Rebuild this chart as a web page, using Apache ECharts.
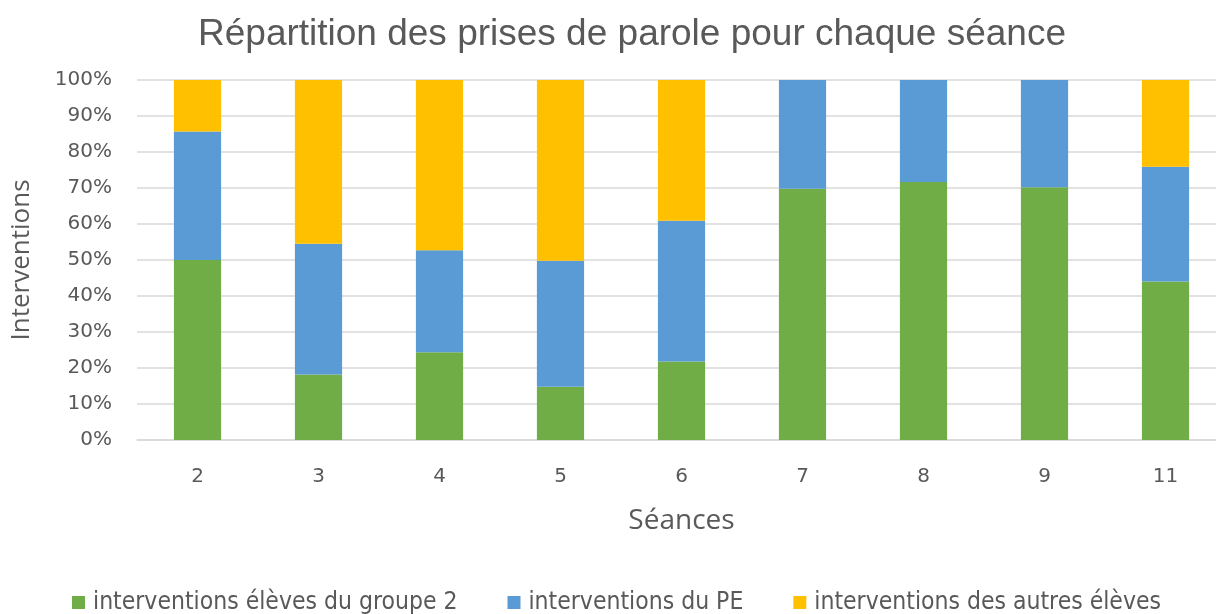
<!DOCTYPE html>
<html>
<head>
<meta charset="utf-8">
<script src="https://cdn.jsdelivr.net/npm/echarts@6/dist/echarts.min.js"></script>
<style>
  html, body { margin: 0; padding: 0; background: #fff; }
  #chart { width: 1216px; height: 614px; }
</style>
</head>
<body>
<div id="chart"></div>
<script>
const seances = ["2", "3", "4", "5", "6", "7", "8", "9", "11"];
const groupe2 = [50, 18.2, 24.4, 14.8, 21.8, 69.8, 71.7, 70.2, 44];
const pe = [35.7, 36.3, 28.3, 35, 39.1, 30.2, 28.3, 29.8, 31.9];
const autres = [14.3, 45.5, 47.3, 50.2, 39.1, 0, 0, 0, 24.1];
const yTicks = ["0%", "10%", "20%", "30%", "40%", "50%", "60%", "70%", "80%", "90%", "100%"];

const textColor = "#595959";
const axisFont = "Open Sans";
const tickFont = "DejaVu Sans";

const chart = echarts.init(document.getElementById("chart"));

const barSeries = (name, data, color) => ({
  name: name,
  type: "bar",
  stack: "total",
  barWidth: "39%",
  data: data,
  itemStyle: { color: color },
});

chart.setOption({
  animation: false,
  title: {
    text: "Répartition des prises de parole pour chaque séance",
    left: 193,
    top: 11,
    textStyle: { fontFamily: "Liberation Sans", fontSize: 37, fontWeight: "normal", color: textColor },
  },
  grid: { left: 137, right: -10, top: 80, bottom: 174, outerBoundsMode: "none" },
  xAxis: {
    type: "category",
    data: seances,
    name: "Séances",
    nameLocation: "middle",
    nameGap: 67,
    nameTextStyle: { fontFamily: axisFont, fontSize: 28, color: textColor },
    axisTick: { show: false },
    axisLine: { lineStyle: { color: "#d9d9d9", width: 1.5 } },
    axisLabel: { fontFamily: tickFont, fontSize: 20, color: textColor, margin: 27 },
  },
  yAxis: {
    type: "value",
    min: 0,
    max: 100,
    interval: 10,
    name: "Interventions",
    nameLocation: "middle",
    nameGap: 102,
    nameTextStyle: { fontFamily: axisFont, fontSize: 26, color: textColor },
    axisLabel: {
      fontFamily: tickFont,
      fontSize: 20,
      color: textColor,
      margin: 25,
      formatter: (v) => yTicks[Math.round(v / 10)],
    },
    splitLine: { lineStyle: { color: "#d9d9d9", width: 1.5 } },
  },
  legend: {
    bottom: -6,
    left: 67,
    itemWidth: 13,
    itemHeight: 13,
    itemGap: 50,
    icon: "rect",
    textStyle: {
      fontFamily: "DejaVu Sans Condensed",
      fontSize: 24.5,
      color: textColor,
      padding: [0, 0, 0, 3],
    },
  },
  series: [
    barSeries("interventions élèves du groupe 2", groupe2, "#70ad47"),
    barSeries("interventions du PE", pe, "#5b9bd5"),
    barSeries("interventions des autres élèves", autres, "#ffc000"),
  ],
});
</script>
</body>
</html>
